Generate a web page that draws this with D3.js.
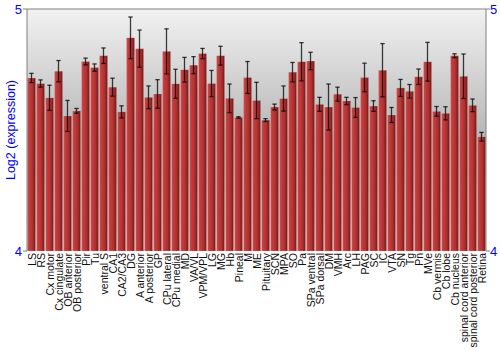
<!DOCTYPE html>
<html>
<head>
<meta charset="utf-8">
<title>Log2 expression</title>
<style>
body { margin: 0; background: #fff; }
.tick-label { fill: #0000ff; font-family: 'Liberation Sans', Arial, sans-serif; font-size: 13px; }
.ylabel { fill: #0000ff; font-family: 'Liberation Sans', Arial, sans-serif; font-size: 12.5px; text-anchor: middle; }
.xlabel { fill: #111; font-family: 'Liberation Sans', Arial, sans-serif; font-size: 10.5px; text-anchor: end; }
.frame { stroke: #808080; stroke-width: 1px; fill: none; }
.err line { stroke: #000; stroke-opacity: 0.75; stroke-width: 1.3px; }
</style>
</head>
<body>
<svg width="500" height="350"></svg>
<script src="https://d3js.org/d3.v7.min.js"></script>
<script>
var regions = ["LS", "RS", "Cx motor", "Cx cingulate", "OB anterior", "OB posterior", "Pir", "Tu",
  "ventral S", "CA1", "CA2/CA3", "DG", "A anterior", "A posterior", "GP", "CPu lateral", "CPu medial",
  "MD", "VA/VL", "VPM/VPL", "LG", "MG", "Hb", "Pineal", "M", "ME", "Pituitary", "SCN", "MPA", "SO",
  "Pa", "SPa ventral", "SPa dorsal", "DM", "VMH", "Arc", "LH", "PAG", "SC", "IC", "VTA", "SN", "Tg",
  "Pn", "MVe", "Cb vermis", "Cb lobe", "Cb nucleus", "spinal cord anterior", "spinal cord posterior", "Retina"];
var expression = [4.715, 4.692, 4.633, 4.743, 4.558, 4.579, 4.783, 4.758,
  4.807, 4.677, 4.575, 4.881, 4.836, 4.635, 4.649, 4.825, 4.691,
  4.749, 4.768, 4.816, 4.692, 4.807, 4.631, 4.552, 4.717, 4.622, 4.541, 4.595, 4.630, 4.739,
  4.782, 4.785, 4.606, 4.595, 4.648, 4.620, 4.593, 4.717, 4.599, 4.747, 4.562, 4.674, 4.660,
  4.720, 4.782, 4.577, 4.569, 4.807, 4.722, 4.602, 4.472];
var errors = [0.019, 0.015, 0.052, 0.044, 0.064, 0.010, 0.014, 0.015,
  0.032, 0.037, 0.025, 0.086, 0.077, 0.047, 0.059, 0.093, 0.060,
  0.051, 0.035, 0.021, 0.054, 0.039, 0.059, 0.003, 0.066, 0.075, 0.006, 0.012, 0.052, 0.040,
  0.079, 0.036, 0.029, 0.095, 0.029, 0.015, 0.041, 0.059, 0.022, 0.110, 0.031, 0.035, 0.028,
  0.032, 0.080, 0.020, 0.027, 0.008, 0.092, 0.026, 0.018];
var yTicks = [4, 5];

var svg = d3.select("svg");
var pLeft = 27, pRight = 486, pTop = 9, pBottom = 251;

var x = d3.scaleBand().domain(regions).range([pLeft, pRight]).paddingInner(0.1).paddingOuter(0.05);
var y = d3.scaleLinear().domain([4, 5]).range([pBottom, pTop]);

var defs = svg.append("defs");
var bg = defs.append("linearGradient").attr("id", "bg")
  .attr("x1", 0).attr("y1", 0).attr("x2", 0).attr("y2", 1);
bg.append("stop").attr("offset", "0%").attr("stop-color", "#f2f2f2");
bg.append("stop").attr("offset", "55%").attr("stop-color", "#b4b4b4");
bg.append("stop").attr("offset", "100%").attr("stop-color", "#e6e6e6");

var barGrad = defs.append("linearGradient").attr("id", "bar")
  .attr("x1", 0).attr("y1", 0).attr("x2", 1).attr("y2", 0);
barGrad.append("stop").attr("offset", "0%").attr("stop-color", "#cf5656");
barGrad.append("stop").attr("offset", "20%").attr("stop-color", "#c23e3e");
barGrad.append("stop").attr("offset", "60%").attr("stop-color", "#b13131");
barGrad.append("stop").attr("offset", "100%").attr("stop-color", "#761616");

// plot background
svg.append("rect")
  .attr("x", pLeft).attr("y", pTop)
  .attr("width", pRight - pLeft).attr("height", pBottom - pTop)
  .attr("fill", "url(#bg)");

// bars
svg.append("g").selectAll("rect")
  .data(regions)
  .enter().append("rect")
  .attr("x", function(d) { return x(d); })
  .attr("y", function(d, i) { return y(expression[i]); })
  .attr("width", x.bandwidth())
  .attr("height", function(d, i) { return pBottom - y(expression[i]); })
  .attr("fill", "url(#bar)")
  .attr("stroke", "rgba(255,255,255,0.25)")
  .attr("stroke-width", 0.6);

// error bars
var err = svg.append("g").attr("class", "err").selectAll("g")
  .data(regions)
  .enter().append("g");
err.append("line")
  .attr("x1", function(d) { return x(d) + x.bandwidth() / 2; })
  .attr("x2", function(d) { return x(d) + x.bandwidth() / 2; })
  .attr("y1", function(d, i) { return y(expression[i] + errors[i]); })
  .attr("y2", function(d, i) { return y(expression[i] - errors[i]); });
[1, -1].forEach(function(s) {
  err.append("line")
    .attr("x1", function(d) { return x(d) + x.bandwidth() / 2 - 2.2; })
    .attr("x2", function(d) { return x(d) + x.bandwidth() / 2 + 2.2; })
    .attr("y1", function(d, i) { return y(expression[i] + s * errors[i]); })
    .attr("y2", function(d, i) { return y(expression[i] + s * errors[i]); });
});

// frame
svg.append("path").attr("class", "frame")
  .attr("d", "M" + pLeft + "," + pBottom + "V" + pTop + "H" + pRight + "V" + pBottom);

// y ticks, both sides
svg.append("g").selectAll("line").data(yTicks).enter().append("line")
  .attr("class", "frame")
  .attr("x1", pLeft - 4).attr("x2", pLeft)
  .attr("y1", function(d) { return y(d); }).attr("y2", function(d) { return y(d); });
svg.append("g").selectAll("line").data(yTicks).enter().append("line")
  .attr("class", "frame")
  .attr("x1", pRight).attr("x2", pRight + 4)
  .attr("y1", function(d) { return y(d); }).attr("y2", function(d) { return y(d); });
svg.append("g").selectAll("text").data(yTicks).enter().append("text")
  .attr("class", "tick-label")
  .attr("x", pLeft - 5).attr("y", function(d) { return y(d) + 5; })
  .attr("text-anchor", "end")
  .text(function(d) { return d; });
svg.append("g").selectAll("text").data(yTicks).enter().append("text")
  .attr("class", "tick-label")
  .attr("x", pRight + 4).attr("y", function(d) { return y(d) + 5; })
  .text(function(d) { return d; });

// axis title
svg.append("text")
  .attr("class", "ylabel")
  .attr("transform", "translate(15," + ((pTop + pBottom) / 2) + ") rotate(-90)")
  .text("Log2 (expression)");

// x labels
svg.append("g").selectAll("text")
  .data(regions)
  .enter().append("text")
  .attr("class", "xlabel")
  .attr("transform", function(d) {
    return "translate(" + (x(d) + x.bandwidth() / 2 + 4) + "," + (pBottom + 2) + ") rotate(-90)";
  })
  .text(function(d) { return d; });
</script>
</body>
</html>
